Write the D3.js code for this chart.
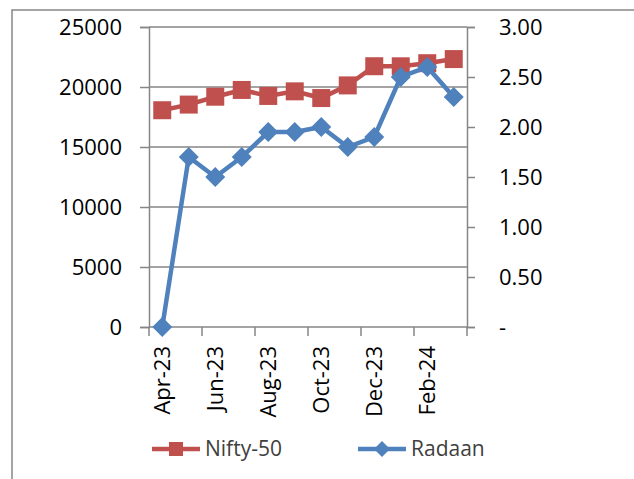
<!DOCTYPE html>
<html>
<head>
<meta charset="utf-8">
<script src="https://cdn.jsdelivr.net/npm/d3@7/dist/d3.min.js"></script>
<style>
  body { margin: 0; background: #fff; }
  svg { display: block; font-family: "Open Sans", sans-serif; }
</style>
</head>
<body>
<script>
const width = 634
const height = 479

// data
const months = ["Apr-23","May-23","Jun-23","Jul-23","Aug-23","Sep-23","Oct-23","Nov-23","Dec-23","Jan-24","Feb-24","Mar-24"]
const nifty = [18065, 18534, 19190, 19754, 19254, 19638, 19080, 20133, 21731, 21726, 21983, 22327]
const radaan = [0, 1.70, 1.50, 1.70, 1.95, 1.95, 2.00, 1.80, 1.90, 2.50, 2.60, 2.30]
const leftTicks = [0, 5000, 10000, 15000, 20000, 25000]
const rightTicks = [0, 0.5, 1, 1.5, 2, 2.5, 3]

const red = "#C0504D"
const blue = "#4F81BD"
const grey = "#868686"

const plot = {left: 149, right: 467, top: 27, bottom: 327}

const svg = d3.select("body").append("svg")
  .attr("width", width)
  .attr("height", height)

// chart area border (runs off the right and bottom of the picture)
svg.append("rect")
  .attr("x", 12).attr("y", 10)
  .attr("width", 700).attr("height", 600)
  .attr("fill", "none")
  .attr("stroke", grey).attr("stroke-width", 1.5)

const x = d3.scaleBand()
  .domain(months)
  .range([plot.left, plot.right])

const yL = d3.scaleLinear().domain([0, 25000]).range([plot.bottom, plot.top])
const yR = d3.scaleLinear().domain([0, 3]).range([plot.bottom, plot.top])

// gridlines
svg.append("g").selectAll("line")
  .data(leftTicks.filter(d => d > 0))
  .enter().append("line")
  .attr("x1", plot.left).attr("x2", plot.right)
  .attr("y1", d => yL(d)).attr("y2", d => yL(d))
  .attr("stroke", grey).attr("stroke-width", 1.5)

// left axis
const gL = svg.append("g")
  .attr("transform", `translate(${plot.left},0)`)
  .call(d3.axisLeft(yL).tickValues(leftTicks).tickSize(9).tickPadding(18).tickFormat(d3.format("d")))
gL.select(".domain").attr("stroke", grey).attr("stroke-width", 1.5)
gL.selectAll(".tick line").attr("stroke", grey).attr("stroke-width", 1.5)
gL.selectAll("text").attr("font-size", 22).attr("fill", "#000").attr("font-family", "Open Sans")

// right axis
const gR = svg.append("g")
  .attr("transform", `translate(${plot.right},0)`)
  .call(d3.axisRight(yR).tickValues(rightTicks).tickSize(8).tickPadding(24)
    .tickFormat(d => d === 0 ? "-" : d3.format(".2f")(d)))
gR.select(".domain").attr("stroke", grey).attr("stroke-width", 1.5)
gR.selectAll(".tick line").attr("stroke", grey).attr("stroke-width", 1.5)
gR.selectAll("text").attr("font-size", 22).attr("fill", "#000").attr("font-family", "Open Sans")

// x axis
const gX = svg.append("g")
  .attr("transform", `translate(0,${plot.bottom})`)
gX.append("line")
  .attr("x1", plot.left).attr("x2", plot.right)
  .attr("stroke", grey).attr("stroke-width", 1.5)
const bounds = d3.range(0, months.length + 1, 2).map(i => plot.left + i * x.step())
gX.selectAll(".xt").data(bounds).enter().append("line")
  .attr("class", "xt")
  .attr("x1", d => d).attr("x2", d => d)
  .attr("y1", 0).attr("y2", 9)
  .attr("stroke", grey).attr("stroke-width", 1.5)
gX.selectAll(".xl").data(months.filter((d, i) => i % 2 === 0)).enter().append("text")
  .attr("class", "xl")
  .attr("transform", d => `translate(${x(d) + x.bandwidth() / 2 + 8},19) rotate(-90)`)
  .attr("text-anchor", "end")
  .attr("font-size", 22)
  .attr("fill", "#000")
  .text(d => d)

// series
const line = d3.line()
const squareSym = d3.symbol().type(d3.symbolSquare)
const diamond = r => `M0,${-r}L${r},0L0,${r}L${-r},0Z`

const niftyPts = months.map((m, i) => [x(m) + x.bandwidth() / 2, yL(nifty[i])])
const radaanPts = months.map((m, i) => [x(m) + x.bandwidth() / 2, yR(radaan[i])])

svg.append("path")
  .attr("d", line(niftyPts))
  .attr("fill", "none").attr("stroke", red).attr("stroke-width", 4.5)
svg.append("g").selectAll("path")
  .data(niftyPts).enter().append("path")
  .attr("transform", d => `translate(${d[0]},${d[1]})`)
  .attr("d", squareSym.size(18 * 18)())
  .attr("fill", red)

svg.append("path")
  .attr("d", line(radaanPts))
  .attr("fill", "none").attr("stroke", blue).attr("stroke-width", 4.5)
svg.append("g").selectAll("path")
  .data(radaanPts).enter().append("path")
  .attr("transform", d => `translate(${d[0]},${d[1]})`)
  .attr("d", diamond(10))
  .attr("fill", blue)

// legend
const legend = [
  {name: "Nifty-50", color: red, x: 152, shape: "square"},
  {name: "Radaan", color: blue, x: 358, shape: "diamond"}
]
const lg = svg.append("g").selectAll("g")
  .data(legend).enter().append("g")
  .attr("transform", d => `translate(${d.x},449)`)
lg.append("line")
  .attr("x1", 0).attr("x2", 48)
  .attr("stroke", d => d.color).attr("stroke-width", 4.5)
lg.append("path")
  .attr("transform", "translate(24,0)")
  .attr("d", d => d.shape === "square" ? squareSym.size(14 * 14)() : diamond(8))
  .attr("fill", d => d.color)
lg.append("text")
  .attr("x", 53).attr("y", 7)
  .attr("font-size", 21)
  .attr("fill", "#404040")
  .text(d => d.name)
</script>
</body>
</html>
